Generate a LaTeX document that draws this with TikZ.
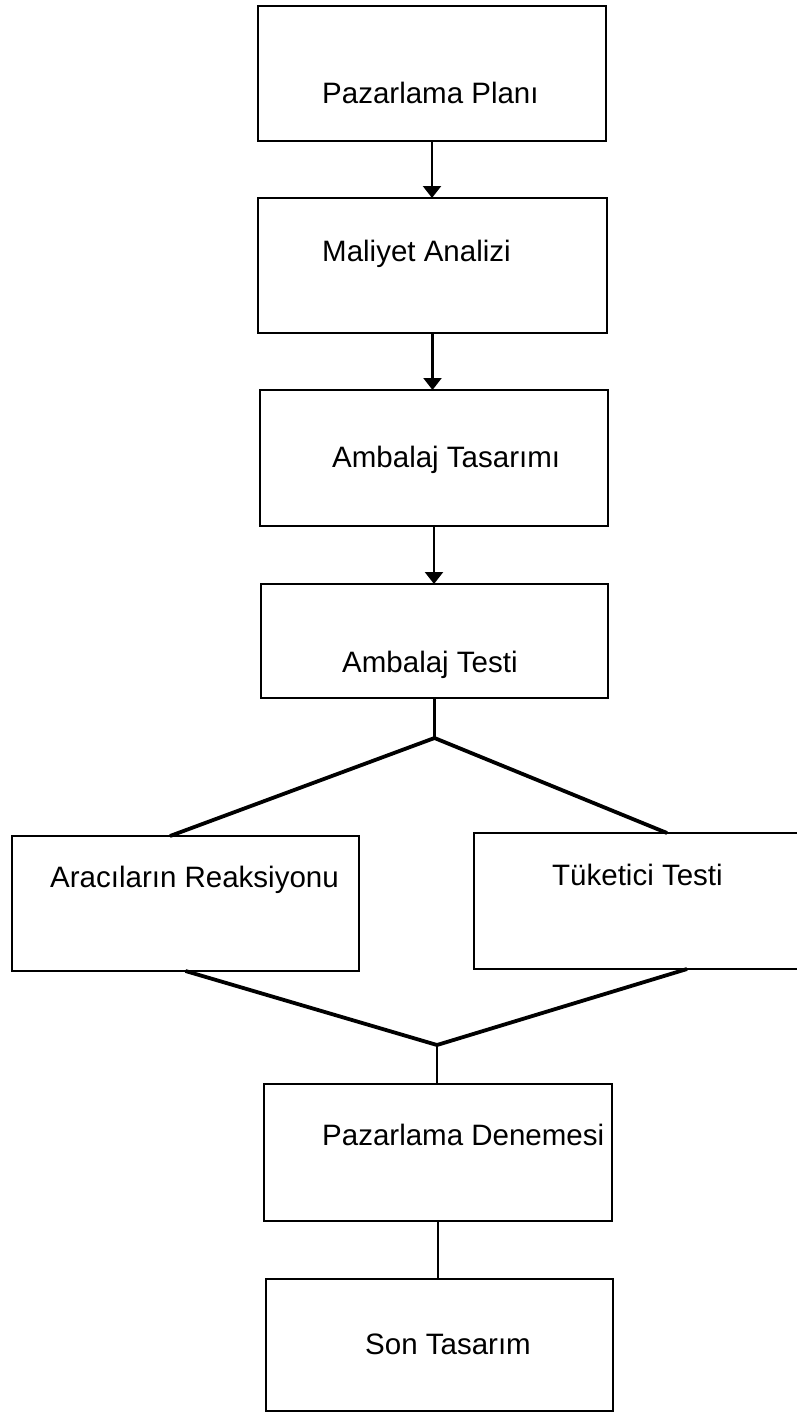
\documentclass[tikz,border=0pt]{standalone}
\usepackage{fontspec}
\setmainfont{Liberation Sans}
\usetikzlibrary{arrows.meta}
\begin{document}
\begin{tikzpicture}[x=1pt,y=-1pt,
  box/.style={draw, line width=2.8pt, inner sep=0pt, outer sep=0pt},
  lbl/.style={anchor=base west, inner sep=0pt, font=\fontsize{29.5}{34}\selectfont},
  feed/.style={line width=2.2pt, -{Triangle[width=18pt,length=12pt]}},
  link/.style={line width=2.6pt},
  branch/.style={line width=3.8pt, line join=miter}]
  % page
  \useasboundingbox (0,0) rectangle (796,1413);
  \fill[white] (0,0) rectangle (796,1413);

  % process boxes
  \node[box, minimum width=348pt, minimum height=135pt] (b1) at (432,73.5) {};
  \node[box, minimum width=349pt, minimum height=135pt] (b2) at (432.5,265.5) {};
  \node[box, minimum width=348pt, minimum height=136pt] (b3) at (434,458) {};
  \node[box, minimum width=347pt, minimum height=114pt] (b4) at (434.5,641) {};
  \node[box, minimum width=347pt, minimum height=135pt] (b5) at (185.5,903.5) {};
  \node[box, minimum width=356pt, minimum height=136pt] (b6) at (652,901) {};
  \node[box, minimum width=348pt, minimum height=137pt] (b7) at (438,1152.5) {};
  \node[box, minimum width=347pt, minimum height=132pt] (b8) at (439.5,1345) {};

  % box labels
  \node[lbl] (t1) at (322,103) {Pazarlama Planı};
  \node[lbl] (t2) at (322,261) {Maliyet Analizi};
  \node[lbl] (t3) at (332,467) {Ambalaj Tasarımı};
  \node[lbl] (t4) at (342,672) {Ambalaj Testi};
  \node[lbl] (t5) at (50,887) {Aracıların Reaksiyonu};
  \node[lbl] (t6) at (552,885) {Tüketici Testi};
  \node[lbl] (t7) at (322,1145) {Pazarlama Denemesi};
  \node[lbl] (t8) at (365,1354) {Son Tasarım};

  % sequential arrows
  \draw[feed] (b1.south) -- (b1.south |- b2.north);
  \draw[feed] (b2.south) -- (b2.south |- b3.north);
  \draw[feed] (b3.south) -- (b3.south |- b4.north);

  % split into the two tests
  \coordinate (split) at (434.5,738);
  \coordinate (l5) at (170,836);
  \coordinate (r6) at (667,833);
  \draw[link] (b4.south) -- (split);
  \draw[branch] (l5) -- (split) -- (r6);

  % merge of the two tests
  \coordinate (merge) at (437,1045);
  \coordinate (r6b) at (687,969);
  \draw[branch] (b5.south) -- (merge) -- (r6b);
  \draw[link] (merge) -- (merge |- b7.north);

  % final step
  \draw[link] (b7.south) -- (b7.south |- b8.north);
\end{tikzpicture}
\end{document}
